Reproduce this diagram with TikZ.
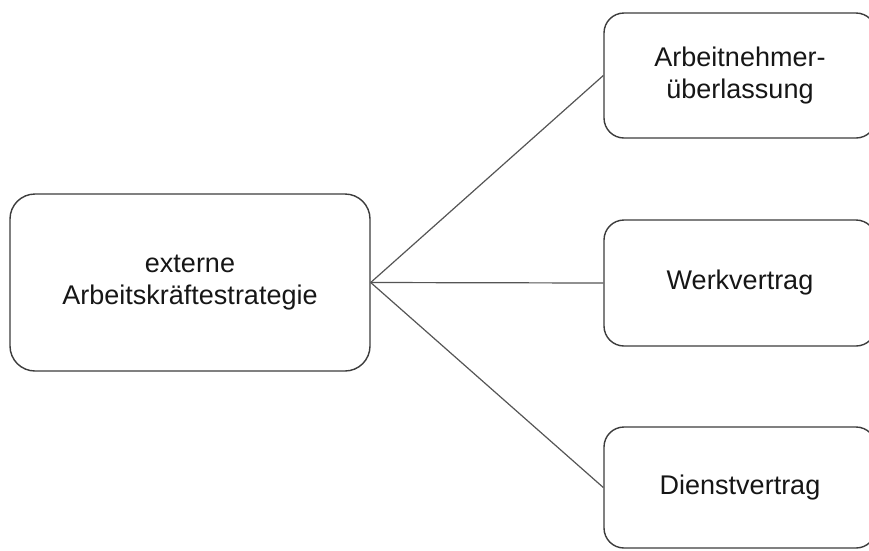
\documentclass[tikz,border=0pt]{standalone}
\usepackage{fontspec}
\setmainfont{Liberation Sans}
\begin{document}
\begin{tikzpicture}[x=1pt,y=-1pt,
  box/.style={draw=boxline, line width=1.4pt, rounded corners=20pt,
    minimum width=272pt, align=center, inner sep=0pt, text=textcol,
    font=\fontsize{27}{32}\selectfont},
  link/.style={draw=linkcol, line width=1.2pt}]
\definecolor{boxline}{HTML}{3C3C3C}
\definecolor{linkcol}{HTML}{555555}
\definecolor{textcol}{HTML}{161616}
\useasboundingbox (0,0) rectangle (869,550);
\fill[white] (0,0) rectangle (869,550);

\node[box, minimum width=360pt, minimum height=177pt, rounded corners=25pt]
  (src) at (190,282.5) {externe\\Arbeitskräftestrategie};
\node[box, minimum height=125pt] (anue) at (740,75.5) {Arbeitnehmer-\\überlassung};
\node[box, minimum height=126pt] (werk) at (740,283) {Werkvertrag};
\node[box, minimum height=121pt] (dienst) at (740,487.5) {Dienstvertrag};

\draw[link] (src.east) -- (anue.west);
\draw[link] (src.east) -- (werk.west);
\draw[link] (src.east) -- (dienst.west);
\end{tikzpicture}
\end{document}
